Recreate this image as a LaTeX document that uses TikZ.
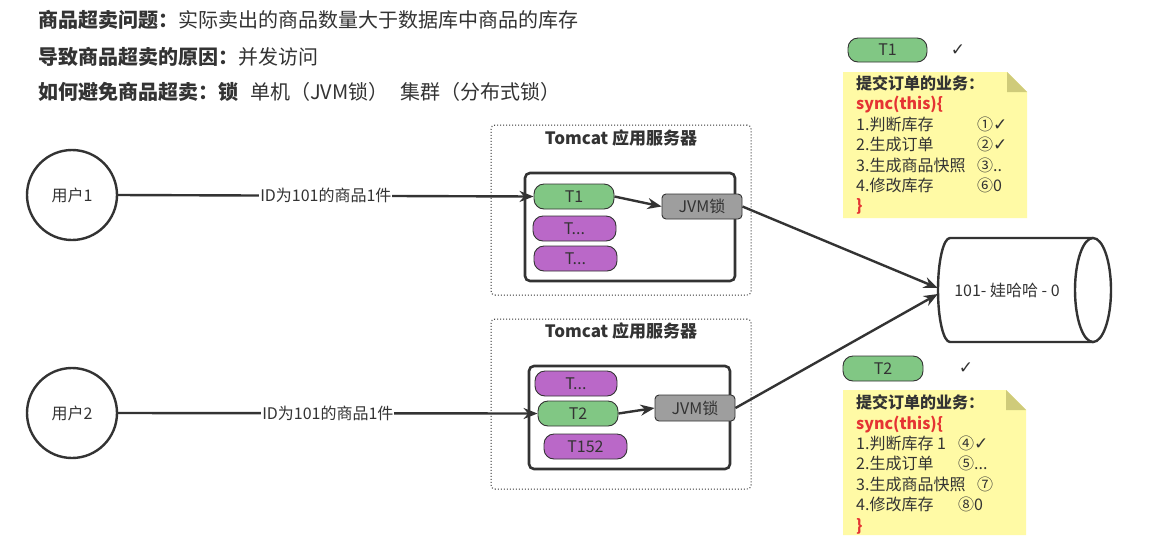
\documentclass[tikz,border=0pt]{standalone}
\usepackage{fontspec}
\setmainfont{Noto Sans CJK SC}
\newfontfamily\symfont{DejaVu Sans}
\usetikzlibrary{arrows.meta}
\definecolor{ink}{HTML}{333333}
\definecolor{tgreen}{HTML}{81C784}
\definecolor{tpurple}{HTML}{BA68C8}
\definecolor{lockgray}{HTML}{9E9E9E}
\definecolor{noteyellow}{HTML}{FFFAA5}
\definecolor{notefold}{HTML}{CFCB7A}
\definecolor{codered}{HTML}{E53333}
\newcommand\myfs[1]{\fontsize{#1}{#1}\selectfont}
\newcommand\ckmark{{\symfont\fontsize{17}{17}\selectfont ✓}}
\begin{document}
\begin{tikzpicture}[x=1pt,y=1pt,
  title/.style={anchor=base west, inner sep=0pt, text=ink, font=\myfs{20}},
  titleb/.style={title, font=\myfs{20}\bfseries},
  thread/.style={draw=ink, line width=0.9pt, rounded corners=10pt, minimum height=25pt, inner sep=0pt, text=ink, font=\myfs{16}},
  gthread/.style={thread, fill=tgreen},
  pthread/.style={thread, fill=tpurple},
  lockbox/.style={draw=ink, line width=0.9pt, fill=lockgray, rounded corners=4pt, minimum width=80pt, minimum height=25pt, inner sep=0pt, text=ink, font=\myfs{16}},
  serverbox/.style={draw=ink, dotted, line width=1pt, rounded corners=4pt, minimum width=260pt, minimum height=170pt, inner sep=0pt},
  poolbox/.style={draw=ink, line width=2.6pt, rounded corners=5pt, inner sep=0pt},
  svlabel/.style={font=\myfs{17}\bfseries, text=ink, inner sep=0pt},
  user/.style={circle, draw=ink, line width=2.4pt, minimum size=90pt, inner sep=0pt, text=ink, font=\myfs{16}},
  conn/.style={draw=ink, line width=2.4pt, -{Stealth[length=14pt,width=11pt]}},
  elabel/.style={fill=white, inner sep=1pt, text=ink, font=\myfs{16}},
  nt/.style={anchor=base west, inner sep=0pt, text=ink, font=\myfs{16}},
  ntb/.style={nt, font=\myfs{16}\bfseries},
  ntred/.style={nt, text=codered, font=\myfs{16}\bfseries},
  note/.style={fill=noteyellow},
  fold/.style={fill=notefold},
  check/.style={inner sep=0pt, text=ink, font=\myfs{16}},
]
\useasboundingbox (0,0) rectangle (1149,-558);
\fill[white] (0,0) rectangle (1149,-558);

% titles
\node[titleb] (h1a) at (38,-27) {商品超卖问题：};
\node[title] (h1b) at (h1a.base east) {实际卖出的商品数量大于数据库中商品的库存};
\node[titleb] (h2a) at (38,-64) {导致商品超卖的原因：};
\node[title] (h2b) at (h2a.base east) {并发访问};
\node[titleb] (h3a) at (38,-99.5) {如何避免商品超卖：锁};
\node[title] (h3b) at (250,-99.5) {单机（JVM锁）};
\node[title] (h3c) at (400,-99.5) {集群（分布式锁）};

% users
\node[user] (u1) at (72,-195) {用户1};
\node[user] (u2) at (72,-413) {用户2};

% server 1
\node[serverbox] (s1) at (621,-210) {};
\node[svlabel] (s1l) at (621,-138) {Tomcat 应用服务器};
\node[poolbox, minimum width=210pt, minimum height=108pt] (p1) at (630,-227) {};
\node[gthread, minimum width=80pt] (t1) at (574,-196.5) {T1};
\node[pthread, minimum width=83pt] (t1b) at (574.5,-228.5) {T...};
\node[pthread, minimum width=83pt] (t1c) at (575.5,-258.5) {T...};
\node[lockbox] (jvm1) at (702,-206.5) {JVM锁};

% server 2
\node[serverbox] (s2) at (621,-404) {};
\node[svlabel] (s2l) at (621,-331) {Tomcat 应用服务器};
\node[poolbox, minimum width=201pt, minimum height=103pt] (p2) at (629.5,-417.5) {};
\node[pthread, minimum width=82pt] (t2a) at (576,-383.5) {T...};
\node[gthread, minimum width=80pt] (t2) at (578,-413.5) {T2};
\node[pthread, minimum width=83pt] (t2c) at (585.5,-446.5) {T152};
\node[lockbox, minimum height=26pt] (jvm2) at (695,-408) {JVM锁};

% database cylinder
\fill[white] (1093,-238) -- (950,-238) arc[start angle=90, end angle=270, x radius=12, y radius=52] -- (1093,-342) -- cycle;
\draw[ink, line width=2.4pt] (1093,-238) -- (950,-238) arc[start angle=90, end angle=270, x radius=12, y radius=52] -- (1093,-342);
\draw[ink, line width=2.4pt, fill=white] (1093,-290) ellipse [x radius=18, y radius=52];
\node[inner sep=0pt, minimum width=138pt, minimum height=104pt, text=ink, font=\myfs{16}] (db) at (1007,-290) {101- 娃哈哈 - 0};

% connectors
\draw[conn] (u1.east) -- node[elabel] (e1) {ID为101的商品1件} (t1.west);
\draw[conn] (t1.east) -- (jvm1.west);
\draw[conn] (jvm1.east) -- ([yshift=2pt]db.west);
\draw[conn] (u2.east) -- node[elabel] (e2) {ID为101的商品1件} (t2.west);
\draw[conn] (t2.east) -- (jvm2.west);
\draw[conn] (jvm2.east) -- ([yshift=-4pt]db.west);

% note 1
\node[gthread, minimum width=79pt, minimum height=24pt] (k1) at (887.5,-50) {T1};
\node[check] (k1c) at (958,-50) {\ckmark};
\fill[note] (843,-72) -- (1007,-72) -- (1027,-92) -- (1027,-218) -- (843,-218) -- cycle;
\fill[fold] (1007,-72) -- (1027,-92) -- (1007,-92) -- cycle;
\node[ntb] (n1h) at (856,-89) {提交订单的业务：};
\node[ntred] (n1s) at (856,-109.5) {sync(this)\{};
\node[nt] (n1a) at (856,-130) {1.判断库存};
\node[nt] (n1b) at (856,-150.5) {2.生成订单};
\node[nt] (n1c) at (856,-171) {3.生成商品快照};
\node[nt] (n1d) at (856,-191) {4.修改库存};
\node[ntred] (n1e) at (856,-211.5) {\}};
\node[nt] (m1a) at (977,-130) {①\ckmark};
\node[nt] (m1b) at (977,-150.5) {②\ckmark};
\node[nt] (m1c) at (977,-171) {③..};
\node[nt] (m1d) at (977,-191) {⑥0};

% note 2
\node[gthread, minimum width=80pt, minimum height=25pt] (k2) at (883,-368.5) {T2};
\node[check] (k2c) at (966,-368) {\ckmark};
\fill[note] (843,-390) -- (1006,-390) -- (1026,-410) -- (1026,-535) -- (843,-535) -- cycle;
\fill[fold] (1006,-390) -- (1026,-410) -- (1006,-410) -- cycle;
\node[ntb] (n2h) at (856,-408) {提交订单的业务：};
\node[ntred] (n2s) at (856,-429) {sync(this)\{};
\node[nt] (n2a) at (856,-449) {1.判断库存 1};
\node[nt] (n2b) at (856,-469) {2.生成订单};
\node[nt] (n2c) at (856,-490) {3.生成商品快照};
\node[nt] (n2d) at (856,-510) {4.修改库存};
\node[ntred] (n2e) at (856,-531) {\}};
\node[nt] (m2a) at (958,-449) {④\ckmark};
\node[nt] (m2b) at (958,-469) {⑤...};
\node[nt] (m2c) at (977,-490) {⑦};
\node[nt] (m2d) at (958,-510) {⑧0};
\end{tikzpicture}
\end{document}
